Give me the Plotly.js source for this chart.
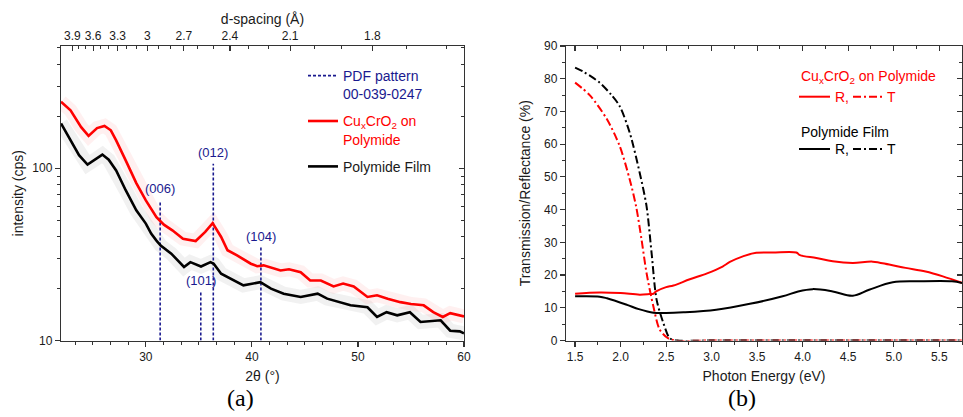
<!DOCTYPE html>
<html><head><meta charset="utf-8">
<script src="https://cdn.plot.ly/plotly-3.0.1.min.js"></script>
<style>html,body{margin:0;padding:0;background:#fff}#chart{width:963px;height:417px}</style>
</head><body><div id="chart"></div>
<script>
// ---------- (a) XRD data ----------
const cuTheta  = [22.0, 22.9, 23.9, 24.6, 25.4, 26.1, 26.7, 27.2, 28.1, 29.1, 30.0, 31.0, 31.7, 32.5, 33.5, 34.7, 35.6, 36.3, 37.1, 37.7, 38.6, 39.9, 40.5, 41.1, 42.7, 43.5, 44.6, 45.5, 46.5, 47.7, 48.6, 49.6, 50.9, 51.8, 52.8, 54.0, 55.0, 56.2, 57.1, 58.0, 58.7, 59.4, 60.0];
const cuCounts = [243, 217, 173, 154, 171, 176, 166, 145, 111, 82, 65, 52, 47, 43.6, 39, 37.8, 42.7, 48, 39.9, 33.4, 31.2, 27.9, 27.0, 27.3, 25.5, 25.9, 24.9, 22.3, 22.3, 20.6, 21.4, 20.6, 17.9, 18.3, 17.5, 16.7, 16.3, 16.0, 14.6, 13.7, 14.4, 14.0, 13.8];
const pmTheta  = [22.0, 22.9, 23.7, 24.5, 25.2, 25.9, 26.5, 27.2, 28.1, 29.1, 30.0, 30.5, 31.0, 31.4, 32.4, 33.6, 34.2, 35.2, 36.1, 36.4, 37.1, 38.0, 39.2, 40.8, 41.8, 43.0, 44.6, 46.2, 47.1, 49.3, 50.9, 51.8, 52.7, 53.7, 54.9, 55.9, 57.8, 58.7, 59.6, 60.0];
const pmCounts = [182, 145, 119, 105, 112, 120, 112, 97, 74.5, 57, 47.7, 41.7, 38, 35.6, 31.9, 26.7, 28.5, 26.9, 28.5, 27.9, 24.4, 22.9, 20.9, 21.8, 20.0, 18.7, 17.9, 18.7, 17.5, 16.0, 15.6, 13.7, 14.6, 14.0, 14.6, 12.8, 13.1, 11.4, 11.3, 11.0];
const pdfTheta  = [31.35, 35.18, 36.36, 40.85];
const pdfCounts = [65, 19.1, 106, 34.6];
const pdfLabels = ['(006)', '(101)', '(012)', '(104)'];
const bottomTicks = [30, 40, 50, 60];
const dMajor = [3.9, 3.6, 3.3, 3.0, 2.7, 2.4, 2.1, 1.8];
const dMajorText = ['3.9', '3.6', '3.3', '3', '2.7', '2.4', '2.1', '1.8'];
const dMinor = [3.8, 3.7, 3.5, 3.4, 3.2, 3.1, 2.9, 2.8, 2.6, 2.5, 2.3, 2.2, 2.0, 1.9, 1.7, 1.6];
const wavelength = 1.56; // effective value matching the top axis of the figure
const yMajor = [10, 100];
const yMinor = [20, 30, 40, 50, 60, 70, 80, 90, 200, 300, 400, 500];

// ---------- (b) optical data ----------
const eCuT = [1.5, 1.66, 1.85, 1.99, 2.10, 2.17, 2.23, 2.285, 2.36, 2.43, 2.52, 2.6, 3.0, 3.5, 4.0, 4.5, 5.0, 5.5, 5.75];
const cuT  = [78.8, 75.0, 67.6, 59.4, 49.2, 41.0, 30.8, 20.6, 10.4, 3.3, 0.7, 0, 0, 0, 0, 0, 0, 0, 0];
const ePmT = [1.5, 1.6, 1.77, 1.9, 1.99, 2.10, 2.21, 2.285, 2.34, 2.395, 2.47, 2.54, 2.62, 3.0, 3.5, 4.0, 4.5, 5.0, 5.5, 5.75];
const pmT  = [83.4, 82.0, 78.8, 75.0, 71.6, 63.5, 51.2, 41.0, 26.8, 12.5, 5.3, 0.7, 0, 0, 0, 0, 0, 0, 0, 0];
const eCuR = [1.5, 1.77, 2.0, 2.21, 2.32, 2.36, 2.39, 2.50, 2.58, 2.76, 2.95, 3.12, 3.2, 3.35, 3.49, 3.67, 3.93, 3.97, 4.15, 4.33, 4.55, 4.77, 4.95, 5.13, 5.35, 5.54, 5.75];
const cuR  = [14.3, 14.7, 14.5, 14.0, 14.2, 14.3, 15.0, 16.3, 16.8, 18.7, 20.5, 22.6, 24.0, 25.8, 26.8, 26.9, 26.9, 26.1, 25.2, 24.2, 23.7, 24.1, 23.2, 22.2, 21.1, 19.6, 17.6];
const ePmR = [1.5, 1.77, 1.85, 2.07, 2.2, 2.36, 2.5, 2.69, 3.05, 3.42, 3.78, 3.95, 4.11, 4.33, 4.55, 4.73, 4.99, 5.28, 5.64, 5.75];
const pmR  = [13.5, 13.4, 12.9, 10.9, 9.6, 8.5, 8.4, 8.6, 9.4, 11.2, 13.5, 15.0, 15.7, 15.0, 13.7, 15.5, 17.8, 18.1, 18.1, 17.6];

// ---------- helpers ----------
const W = 963, H = 417;
const FONT = 'Liberation Sans, Arial, sans-serif';
const AX = '#333333';
const NAVY = '#1a1a8f';
const px = v => v / W, py = v => 1 - v / H;
const bragg = d => 2 * Math.asin(wavelength / (2 * d)) * 180 / Math.PI;
const tf = () => ({family: FONT, size: 14, color: '#1a1a1a'});
const kf = () => ({family: FONT, size: 12, color: '#1a1a1a'});

const leftDom = [px(61), px(464)];
const rightDom = [px(566), px(962)];
const yDom = [py(340.5), py(46)];

const pdfX = [], pdfY = [];
pdfTheta.forEach((t, i) => { pdfX.push(t, t, null); pdfY.push(10, pdfCounts[i], null); });

const dash = '8px,3px,2px,3px';
const traces = [
  {x: pmTheta, y: pmCounts, xaxis: 'x', yaxis: 'y', mode: 'lines', line: {color: 'rgba(150,150,150,0.13)', width: 14}, showlegend: false, hoverinfo: 'skip'},
  {x: cuTheta, y: cuCounts, xaxis: 'x', yaxis: 'y', mode: 'lines', line: {color: 'rgba(255,110,110,0.10)', width: 14}, showlegend: false, hoverinfo: 'skip'},
  {x: pdfX, y: pdfY, xaxis: 'x', yaxis: 'y', mode: 'lines', line: {color: NAVY, width: 1.6, dash: '3px,2px'}, legendgroup: 'a',
   name: '<span style="color:' + NAVY + '">PDF pattern<br>00-039-0247</span>'},
  {x: cuTheta, y: cuCounts, xaxis: 'x', yaxis: 'y', mode: 'lines', line: {color: '#ff0000', width: 2.6}, legendgroup: 'b',
   name: '<span style="color:#ff0000">Cu<sub>x</sub>CrO<sub>2</sub> on<br>Polymide</span>'},
  {x: pmTheta, y: pmCounts, xaxis: 'x', yaxis: 'y', mode: 'lines', line: {color: '#000000', width: 2.6}, legendgroup: 'c',
   name: 'Polymide Film'},
  // overlay axes holders
  {x: [], y: [], xaxis: 'x3', yaxis: 'y', showlegend: false, hoverinfo: 'skip'},
  {x: [], y: [], xaxis: 'x', yaxis: 'y3', showlegend: false, hoverinfo: 'skip'},
  {x: [], y: [], xaxis: 'x4', yaxis: 'y2', showlegend: false, hoverinfo: 'skip'},
  {x: [], y: [], xaxis: 'x2', yaxis: 'y4', showlegend: false, hoverinfo: 'skip'},
  // (b)
  {x: eCuT, y: cuT, xaxis: 'x2', yaxis: 'y2', mode: 'lines', line: {color: '#ff0000', width: 2, dash: dash, shape: 'spline', smoothing: 0.8}, showlegend: false},
  {x: ePmT, y: pmT, xaxis: 'x2', yaxis: 'y2', mode: 'lines', line: {color: '#000000', width: 2, dash: dash, shape: 'spline', smoothing: 0.8}, showlegend: false},
  {x: eCuR, y: cuR, xaxis: 'x2', yaxis: 'y2', mode: 'lines', line: {color: '#ff0000', width: 2, shape: 'spline'}, showlegend: false},
  {x: ePmR, y: pmR, xaxis: 'x2', yaxis: 'y2', mode: 'lines', line: {color: '#000000', width: 2, shape: 'spline'}, showlegend: false}
];

const base = () => ({showline: true, linecolor: AX, linewidth: 1.2, tickcolor: AX, tickwidth: 1.2, tickfont: kf(),
  showgrid: false, zeroline: false, automargin: false, fixedrange: true});
const mk = (o) => Object.assign(base(), o);
const minorOut = (o) => Object.assign({ticks: 'outside', ticklen: 3, tickcolor: AX, tickwidth: 1}, o);
const minorIn = (o) => Object.assign({ticks: 'inside', ticklen: 3, tickcolor: AX, tickwidth: 1}, o);

const layout = {
  width: W, height: H, margin: {l: 0, r: 0, t: 0, b: 0},
  paper_bgcolor: '#fff', plot_bgcolor: 'rgba(0,0,0,0)',
  font: {family: FONT, color: '#1a1a1a', size: 12},
  xaxis: mk({domain: leftDom, anchor: 'y', range: [22, 60], ticks: 'outside', ticklen: 5,
    tickmode: 'array', tickvals: bottomTicks,
    minor: minorOut({tickmode: 'linear', tick0: 30, dtick: 10 / 6}),
    title: {text: '2θ (°)', font: tf(), standoff: 8}}),
  xaxis3: mk({overlaying: 'x', side: 'top', anchor: 'y', range: [22, 60], ticks: 'inside', ticklen: 5,
    tickmode: 'array', tickvals: dMajor.map(bragg), ticktext: dMajorText,
    minor: minorIn({tickmode: 'array', tickvals: dMinor.map(bragg)}),
    title: {text: 'd-spacing (Å)', font: tf(), standoff: 1}}),
  yaxis: mk({domain: yDom, anchor: 'x', type: 'log', range: [1, Math.log10(512)], ticks: 'outside', ticklen: 5,
    tickmode: 'array', tickvals: yMajor, ticktext: yMajor.map(String),
    minor: minorOut({tickmode: 'array', tickvals: yMinor}),
    title: {text: 'intensity (cps)', font: tf(), standoff: 5}}),
  yaxis3: mk({overlaying: 'y', side: 'right', anchor: 'x', type: 'log', range: [1, Math.log10(512)], ticks: 'inside', ticklen: 5,
    tickmode: 'array', tickvals: yMajor, showticklabels: false,
    minor: minorIn({tickmode: 'array', tickvals: yMinor})}),
  xaxis2: mk({domain: rightDom, anchor: 'y2', range: [1.4, 5.75], ticks: 'outside', ticklen: 5,
    tick0: 1.5, dtick: 0.5, tickformat: '.1f',
    minor: minorOut({tick0: 1.5, dtick: 0.25}),
    title: {text: 'Photon Energy (eV)', font: tf(), standoff: 8}}),
  xaxis4: mk({overlaying: 'x2', side: 'top', anchor: 'y2', range: [1.4, 5.75], ticks: 'inside', ticklen: 5,
    tick0: 1.5, dtick: 0.5, showticklabels: false,
    minor: minorIn({tick0: 1.5, dtick: 0.25})}),
  yaxis2: mk({domain: yDom, anchor: 'x2', range: [0, 90], ticks: 'outside', ticklen: 5,
    tick0: 0, dtick: 10,
    minor: minorOut({tick0: 0, dtick: 5}),
    title: {text: 'Transmission/Reflectance (%)', font: tf(), standoff: 10}}),
  yaxis4: mk({overlaying: 'y2', side: 'right', anchor: 'x2', range: [0, 90], ticks: 'inside', ticklen: 5,
    tick0: 0, dtick: 10, showticklabels: false,
    minor: minorIn({tick0: 0, dtick: 5})}),
  legend: {x: px(303), y: py(60), xanchor: 'left', yanchor: 'top', bgcolor: 'rgba(0,0,0,0)', borderwidth: 0,
    font: {family: FONT, size: 14, color: '#1a1a1a'}, valign: 'top', itemwidth: 30, tracegroupgap: 6},
  annotations: [],
  shapes: []
};

// PDF peak labels
pdfTheta.forEach((t, i) => {
  layout.annotations.push({x: t, y: Math.log10(pdfCounts[i]), xref: 'x', yref: 'y', text: pdfLabels[i], showarrow: false,
    yanchor: 'bottom', yshift: 2, font: {family: FONT, size: 13, color: NAVY}});
});
// panel labels
layout.annotations.push({x: px(240), y: py(398), xref: 'paper', yref: 'paper', text: '(a)', showarrow: false,
  xanchor: 'center', yanchor: 'middle', font: {family: 'Liberation Serif, Times New Roman, serif', size: 24, color: '#000'}});
layout.annotations.push({x: px(742), y: py(398), xref: 'paper', yref: 'paper', text: '(b)', showarrow: false,
  xanchor: 'center', yanchor: 'middle', font: {family: 'Liberation Serif, Times New Roman, serif', size: 24, color: '#000'}});

// legend of panel (b)
const legB = [
  {head: 'Cu<sub>x</sub>CrO<sub>2</sub> on Polymide', color: '#ff0000', yHead: 77, yRow: 96.7},
  {head: 'Polymide Film', color: '#000000', yHead: 132, yRow: 149}
];
legB.forEach(g => {
  layout.annotations.push({x: px(799), y: py(g.yHead), xref: 'paper', yref: 'paper', text: g.head, showarrow: false,
    xanchor: 'left', yanchor: 'middle', font: {family: FONT, size: 14, color: g.color}});
  layout.annotations.push({x: px(833), y: py(g.yRow), xref: 'paper', yref: 'paper', text: 'R,', showarrow: false,
    xanchor: 'left', yanchor: 'middle', font: {family: FONT, size: 14, color: g.color}});
  layout.annotations.push({x: px(885), y: py(g.yRow), xref: 'paper', yref: 'paper', text: 'T', showarrow: false,
    xanchor: 'left', yanchor: 'middle', font: {family: FONT, size: 14, color: g.color}});
  layout.shapes.push({type: 'line', xref: 'paper', yref: 'paper', x0: px(799), x1: px(830), y0: py(g.yRow), y1: py(g.yRow),
    line: {color: g.color, width: 2}});
  layout.shapes.push({type: 'line', xref: 'paper', yref: 'paper', x0: px(853), x1: px(885), y0: py(g.yRow), y1: py(g.yRow),
    line: {color: g.color, width: 2, dash: dash}});
});

Plotly.newPlot('chart', traces, layout, {staticPlot: true, displayModeBar: false});
</script>
</body></html>
